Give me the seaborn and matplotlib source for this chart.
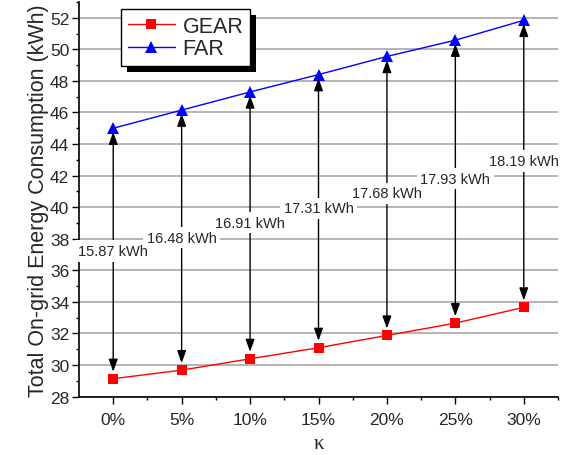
import numpy as np
import pandas as pd
import seaborn as sns
import matplotlib.pyplot as plt
from matplotlib.patches import Rectangle
from matplotlib.ticker import MultipleLocator, FixedLocator

kappa = [0, 5, 10, 15, 20, 25, 30]
kappa_labels = ["0%", "5%", "10%", "15%", "20%", "25%", "30%"]
gear = [29.13, 29.67, 30.39, 31.09, 31.87, 32.65, 33.65]
far = [45.00, 46.15, 47.30, 48.40, 49.55, 50.58, 51.84]
gap_labels = ["15.87 kWh", "16.48 kWh", "16.91 kWh", "17.31 kWh",
              "17.68 kWh", "17.93 kWh", "18.19 kWh"]

sns.set_style("ticks")
plt.rcParams['font.family'] = ['Liberation Sans', 'DejaVu Sans']

df = pd.DataFrame({
    "kappa": kappa * 2,
    "energy": gear + far,
    "method": ["GEAR"] * len(kappa) + ["FAR"] * len(kappa),
})

fig = plt.figure(figsize=(5.68, 4.56), dpi=100)
ax = fig.add_axes([79 / 568, 1 - 397.5 / 456, 479 / 568, 394.5 / 456])

sns.lineplot(data=df, x="kappa", y="energy", hue="method", style="method",
             hue_order=["GEAR", "FAR"], style_order=["GEAR", "FAR"],
             palette={"GEAR": "#ff0000", "FAR": "#0000ff"},
             markers={"GEAR": "s", "FAR": "^"}, dashes=False,
             markersize=7.5, markeredgewidth=0, lw=1, ax=ax, zorder=2)

# double arrows between the curves, label in the middle
for x, lo, hi, txt in zip(kappa, gear, far, gap_labels):
    ax.annotate("", xy=(x, hi), xytext=(x, lo),
                arrowprops=dict(arrowstyle="<|-|>,head_length=0.75,head_width=0.27",
                                color="black", lw=1, mutation_scale=10,
                                shrinkA=5, shrinkB=2.6), zorder=3)
    ax.text(x, lo + 0.51 * (hi - lo), txt, ha="center", va="center",
            fontsize=10.5, zorder=4,
            bbox=dict(boxstyle="square,pad=0.25", fc="white", ec="none"))

ax.set_xlim(-2.5, 32.5)
ax.set_ylim(28, 53)
ax.xaxis.set_major_locator(FixedLocator(kappa))
ax.set_xticklabels(kappa_labels)
ax.xaxis.set_minor_locator(FixedLocator([k + 2.5 for k in kappa]))
ax.yaxis.set_major_locator(FixedLocator(np.arange(28, 53, 2)))
ax.yaxis.set_minor_locator(MultipleLocator(1))

ax.tick_params(which="major", length=5, width=1, color="black", labelsize=12.5, pad=2)
ax.tick_params(axis="x", which="major", pad=6)
ax.tick_params(which="minor", length=2.5, width=1, color="black")
ax.grid(axis="y", which="major", color="#a0a0a0", lw=1.1)
ax.set_axisbelow(True)
for s in ["top", "right"]:
    ax.spines[s].set_visible(False)
for s in ["left", "bottom"]:
    ax.spines[s].set_color("black")
    ax.spines[s].set_linewidth(1.2)

ax.set_ylabel("Total On-grid Energy Consumption (kWh)", fontsize=15.5, labelpad=1)
ax.set_xlabel("κ", fontsize=15, family=["Liberation Serif", "DejaVu Serif"], labelpad=5)

handles, labels = ax.get_legend_handles_labels()
leg = ax.legend(handles, labels, loc="upper left", bbox_to_anchor=(0.088, 0.982),
                borderaxespad=0, fontsize=15.5, frameon=True, fancybox=False,
                edgecolor="black", framealpha=1, handlelength=2.2,
                handletextpad=0.35, labelspacing=0.08, borderpad=0.3)
leg.get_frame().set_linewidth(1)

# triangles a bit larger than squares, in the plot and in the legend
for ln in list(ax.lines) + list(leg.get_lines()):
    if ln.get_marker() == "^":
        ln.set_markersize(9)

# solid black drop shadow behind the legend box
fig.canvas.draw()
bb = leg.get_frame().get_window_extent().transformed(ax.transAxes.inverted())
dx, dy = 6 / 479, 6 / 394.5
ax.add_artist(Rectangle((bb.x0 + dx, bb.y0 - dy), bb.width, bb.height,
                        transform=ax.transAxes, fc="black", ec="none",
                        zorder=4.9, clip_on=False))

fig.savefig("out.png", dpi=100)
